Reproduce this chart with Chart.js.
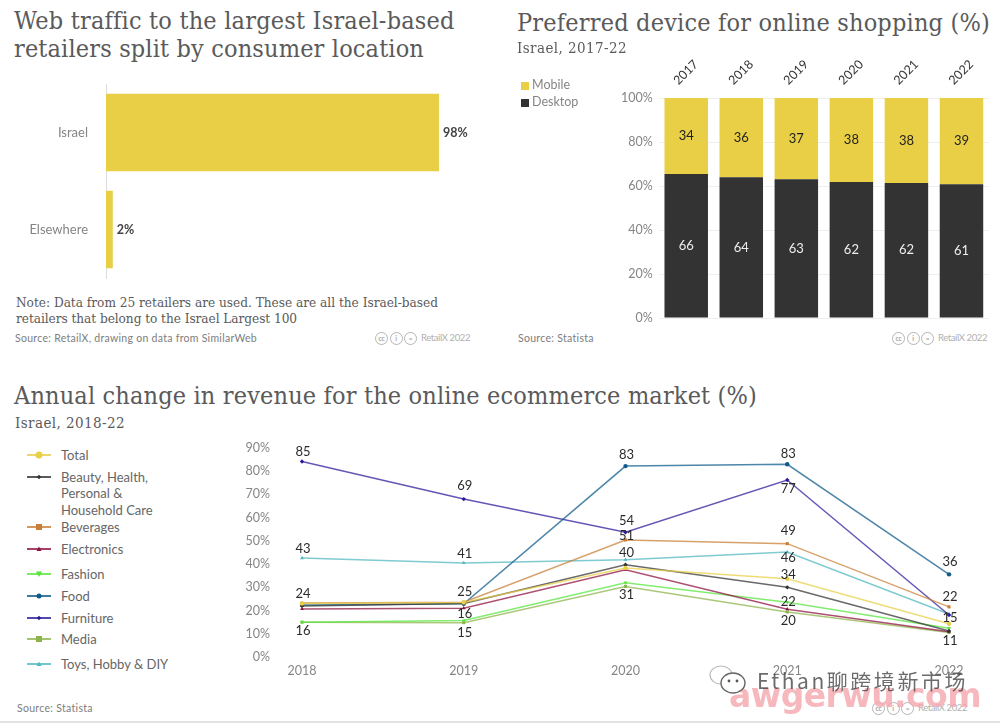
<!DOCTYPE html>
<html><head><meta charset="utf-8">
<script src="https://cdn.jsdelivr.net/npm/chart.js@4/dist/chart.umd.min.js"></script>
<style>
html,body{margin:0;padding:0;background:#fff;overflow:hidden}
#page{position:relative;width:1000px;height:723px;overflow:hidden;font-family:Lato,sans-serif}
.t{position:absolute;white-space:nowrap;line-height:1}
.serif{font-family:"DejaVu Serif Condensed","DejaVu Serif",serif;color:#5a5a5a}
.src{font-size:10.5px;color:#7d7d7d}
canvas{position:absolute}
.cc{position:absolute;width:11px;height:11px;border:1.2px solid #b5b5b5;border-radius:50%;font-size:6.5px;line-height:11px;text-align:center;color:#a0a0a0;font-weight:bold}
.leg{font-size:13px;color:#666;line-height:16.3px;position:absolute;left:61px}
svg{position:absolute}
</style></head><body><div id="page">
<canvas id="c1" width="500" height="205" style="left:0;top:80px;width:500px;height:205px"></canvas>
<canvas id="c2" width="500" height="280" style="left:500px;top:50px;width:500px;height:280px"></canvas>
<canvas id="c3" width="760" height="260" style="left:240px;top:435px;width:760px;height:260px"></canvas>
</div>
<script>
// ---- Data ----
const locationCategories = ['Israel', 'Elsewhere'];
const locationValues = [98, 2];
const locationLabels = ['98%', '2%'];

const deviceYears = ['2017', '2018', '2019', '2020', '2021', '2022'];
const desktopValues = [65.5, 64, 63.1, 61.8, 61.4, 60.8];
const mobileValues = [34.5, 36, 36.9, 38.2, 38.6, 39.2];
const desktopLabels = ['66', '64', '63', '62', '62', '61'];
const mobileLabels = ['34', '36', '37', '38', '38', '39'];

const revenueYears = ['2018', '2019', '2020', '2021', '2022'];
const totalValues = [23, 23.5, 38.3, 33.7, 14.3];
const beautyValues = [22, 23, 39.7, 30, 11.2];
const beveragesValues = [23.2, 23.6, 50.4, 48.8, 21.6];
const electronicsValues = [20.7, 21, 37.6, 20.6, 10.9];
const fashionValues = [15, 15.7, 32, 23.6, 12.4];
const foodValues = [22.4, 22.9, 82.2, 83, 35.6];
const furnitureValues = [84.2, 68, 53.7, 76.2, 18.1];
const mediaValues = [15, 14.8, 30.4, 19.4, 10.6];
const toysValues = [42.6, 40.5, 41.9, 45.2, 18.5];
const yPercentTicks90 = [0,10,20,30,40,50,60,70,80,90];

// series name, year index, label text, vertical offset from the point
const lineLabels = [
 ['Furniture',0,'85',-10],['Furniture',1,'69',-13],['Furniture',2,'54',-11],['Furniture',3,'77',9],
 ['Furniture',4,'15',3],
 ['Food',2,'83',-11],['Food',3,'83',-10],['Food',4,'36',-13],
 ['Toys, Hobby & DIY',0,'43',-9],['Toys, Hobby & DIY',1,'41',-9],['Toys, Hobby & DIY',2,'40',-7],['Toys, Hobby & DIY',3,'46',6],
 ['Beverages',0,'24',-9],['Beverages',1,'25',-10],['Beverages',2,'51',-4],['Beverages',3,'49',-13],['Beverages',4,'22',-10],
 ['Total',3,'34',-4],
 ['Fashion',0,'16',9],['Fashion',1,'16',-7],['Fashion',3,'22',0],
 ['Media',1,'15',10],['Media',2,'31',8],['Media',3,'20',9],['Media',4,'11',8]
];

const SANS = 'Lato, sans-serif';
const page = document.getElementById('page');

function text(str, x, cy, size, cls, width, color, family, weight){
  const e = document.createElement('div');
  e.className = 't ' + cls; e.textContent = str;
  e.style.left = x + 'px'; e.style.fontSize = size + 'px';
  e.style.top = (cy - size/2) + 'px';
  if(color) e.style.color = color;
  if(family) e.style.fontFamily = family;
  if(weight) e.style.fontWeight = weight;
  page.appendChild(e);
  if(width){ const w = e.getBoundingClientRect().width;
    e.style.letterSpacing = ((width - w) / str.length) + 'px'; }
  return e;
}
text('Web traffic to the largest Israel-based',14,20,25,'serif',440);
text('retailers split by consumer location',14,48,25,'serif',410);
text('Note: Data from 25 retailers are used. These are all the Israel-based',16,303,13.5,'serif',422);
text('retailers that belong to the Israel Largest 100',16,318.5,13.5,'serif',281);
text('Source: RetailX, drawing on data from SimilarWeb',15,338,10.5,'src',242);
text('Preferred device for online shopping (%)',517,22,25,'serif',473);
text('Israel, 2017-22',517,48,15,'serif',110);
text('Source: Statista',518,338,10.5,'src',76);
text('Annual change in revenue for the online ecommerce market (%)',14,395,25,'serif',743);
text('Israel, 2018-22',15,423.5,15,'serif',110);
text('Source: Statista',17,708,10.5,'src',76);

function ccMark(x, y){
  ['cc','i','='].forEach((s,i)=>{
    const c = document.createElement('div'); c.className='cc'; c.textContent=s;
    c.style.left=(x+i*14.6-6)+'px'; c.style.top=(y-6.5)+'px'; page.appendChild(c);
  });
  text('RetailX 2022', x+40, y, 9.5, '', 49, '#b0b0b0');
}
ccMark(381,338); ccMark(898,338); ccMark(878,708);

const hr = document.createElement('div');
hr.style.cssText='position:absolute;left:0;top:721px;width:1000px;height:1.5px;background:#e2e2e2';
page.appendChild(hr);

const YEL = '#e8cf45', DARK = '#333333';

// the scales' own edge padding is removed so the plot area fills the set frame
function flatY(width){ return s=>{ s.width=width; s.paddingTop=0; s.paddingBottom=0; }; }
function flatX(height){ return s=>{ s.height=height; s.paddingLeft=0; s.paddingRight=0; }; }

const barLabels = {
  id:'barLabels',
  afterDatasetsDraw(chart){
    const o = chart.options.plugins.barLabels; if(!o) return;
    const ctx = chart.ctx; ctx.save();
    ctx.textBaseline='middle';
    o.sets.forEach((set,di)=>{
      const meta = chart.getDatasetMeta(di);
      meta.data.forEach((el,i)=>{
        ctx.font = set.font; ctx.fillStyle = set.color;
        if(o.outside){ ctx.textAlign='left'; ctx.fillText(set.text[i], el.x+4, el.y); }
        else { ctx.textAlign='center'; ctx.fillText(set.text[i], el.x, (el.y+el.base)/2); }
      });
    });
    ctx.restore();
  }
};
const pointLabels = {
  id:'pointLabels',
  afterDatasetsDraw(chart){
    const ctx = chart.ctx; ctx.save();
    ctx.textAlign='center'; ctx.textBaseline='middle';
    ctx.font='13px '+SANS; ctx.fillStyle='#2b2b2b';
    lineLabels.forEach(([name,i,t,dy])=>{
      const di = chart.data.datasets.findIndex(d=>d.label===name);
      const el = chart.getDatasetMeta(di).data[i];
      ctx.fillText(t, el.x+1, el.y+dy);
    });
    ctx.restore();
  }
};

// Chart 1
new Chart(document.getElementById('c1'),{
  type:'bar',
  data:{labels:locationCategories,datasets:[{data:locationValues,backgroundColor:YEL,barPercentage:0.8,categoryPercentage:1}]},
  plugins:[barLabels],
  options:{indexAxis:'y',responsive:false,maintainAspectRatio:false,animation:false,
    layout:{padding:{top:4,bottom:7,right:54.2,left:0}},
    plugins:{legend:{display:false},tooltip:{enabled:false},
      barLabels:{outside:true,sets:[{text:locationLabels,font:'bold 12.5px '+SANS,color:'#444'}]}},
    scales:{
      x:{display:false,min:0,max:100},
      y:{afterFit:flatY(106),grid:{display:false,drawTicks:false},border:{color:'#dcdcdc',width:1},
         ticks:{color:'#858585',font:{family:SANS,size:13},padding:18}}
    }}
});

// Chart 2
new Chart(document.getElementById('c2'),{
  type:'bar',
  data:{labels:deviceYears,datasets:[
    {label:'Desktop',data:desktopValues,backgroundColor:DARK,barPercentage:0.79,categoryPercentage:1},
    {label:'Mobile',data:mobileValues,backgroundColor:YEL,barPercentage:0.79,categoryPercentage:1}
  ]},
  plugins:[barLabels],
  options:{responsive:false,maintainAspectRatio:false,animation:false,
    layout:{padding:{top:0,bottom:12,right:11,left:0}},
    plugins:{legend:{display:false},tooltip:{enabled:false},
      barLabels:{sets:[
        {text:desktopLabels,font:'13px '+SANS,color:'#eeeeee'},
        {text:mobileLabels,font:'13px '+SANS,color:'#1f1f1f'}]}},
    scales:{
      x:{position:'top',stacked:true,afterFit:flatX(48),grid:{display:false},border:{display:false},
         ticks:{color:'#333',font:{family:SANS,size:12.5},minRotation:45,maxRotation:45,padding:2}},
      y:{stacked:true,min:0,max:100,afterFit:flatY(158.7),
         grid:{color:'#efefef',drawTicks:false},border:{display:false},
         ticks:{stepSize:20,color:'#858585',font:{family:SANS,size:12.5},padding:6,callback:v=>v+'%'}}
    }}
});
[['Mobile',YEL,85.5],['Desktop',DARK,102.5]].forEach(([n,c,y])=>{
  const s=document.createElement('div');
  s.style.cssText=`position:absolute;left:521px;top:${y-4}px;width:8px;height:8px;background:${c}`;
  page.appendChild(s);
  text(n,532,y,12.5,'',0,'#858585');
});

// Chart 3
const seriesStyle = [
 ['Total',totalValues,'#e8cf45','circle',0,455,3.5],
 ['Beauty, Health,\nPersonal &\nHousehold Care',beautyValues,'#333333','rectRot',0,477,2.2],
 ['Beverages',beveragesValues,'#c97f35','rect',0,527,3],
 ['Electronics',electronicsValues,'#8e1040','triangle',0,549,2.5],
 ['Fashion',fashionValues,'#55e63a','triangle',180,574,3],
 ['Food',foodValues,'#0e5a8a','circle',0,596,2.5],
 ['Furniture',furnitureValues,'#2a1a9a','rectRot',0,617.5,2.2],
 ['Media',mediaValues,'#8cb44a','rect',0,639,3],
 ['Toys, Hobby & DIY',toysValues,'#4fb8c0','triangle',0,664,2.5]
];
const datasets = seriesStyle.map(([name,vals,col,shape,rot])=>({
  label:name.indexOf('\n')>=0?name.replace(/\n/g,' '):name,
  data:vals,borderColor:col+'bb',backgroundColor:col,borderWidth:1.5,tension:0,
  pointStyle:shape,pointRotation:rot,pointRadius:2.2,pointBorderWidth:0,clip:false
}));
new Chart(document.getElementById('c3'),{
  type:'line',
  data:{labels:revenueYears,datasets},
  plugins:[pointLabels],
  options:{responsive:false,maintainAspectRatio:false,animation:false,
    layout:{padding:{top:13,bottom:0,right:51,left:0}},
    plugins:{legend:{display:false},tooltip:{enabled:false}},
    scales:{
      x:{offset:false,afterFit:flatX(38),grid:{display:false,drawTicks:false},border:{display:false},
         ticks:{color:'#858585',font:{family:SANS,size:12.5},padding:6,maxRotation:0}},
      y:{min:0,max:90,afterFit:flatY(62),grid:{display:false,drawTicks:false},border:{display:false},
         afterBuildTicks(s){s.ticks=yPercentTicks90.map(v=>({value:v}))},
         ticks:{color:'#858585',font:{family:SANS,size:12.5},padding:32,callback:v=>v+'%'}}
    }}
});
seriesStyle.forEach(([name,vals,col,shape,rot,y,r])=>{
  const NS='http://www.w3.org/2000/svg';
  const svg=document.createElementNS(NS,'svg');
  svg.setAttribute('width','26');svg.setAttribute('height','14');
  svg.style.left='26px';svg.style.top=(y-7)+'px';
  const l=document.createElementNS(NS,'line');
  l.setAttribute('x1','1');l.setAttribute('x2','25');l.setAttribute('y1','7');l.setAttribute('y2','7');
  l.setAttribute('stroke',col);l.setAttribute('stroke-width','1.6');svg.appendChild(l);
  let m;
  if(shape==='circle'){m=document.createElementNS(NS,'circle');m.setAttribute('cx','13');m.setAttribute('cy','7');m.setAttribute('r',r);}
  else{m=document.createElementNS(NS,'polygon');
    const p={rect:[[-r,-r],[r,-r],[r,r],[-r,r]],rectRot:[[0,-r],[r,0],[0,r],[-r,0]],
             triangle:rot?[[-r,-r*.8],[r,-r*.8],[0,r]]:[[-r,r*.8],[r,r*.8],[0,-r]]}[shape];
    m.setAttribute('points',p.map(a=>(13+a[0])+','+(7+a[1])).join(' '));}
  m.setAttribute('fill',col);svg.appendChild(m);page.appendChild(svg);
  const e=document.createElement('div');e.className='leg';
  e.style.top=(y-8)+'px';e.innerHTML=name.replace(/&/g,'&amp;').replace(/\n/g,'<br>');
  page.appendChild(e);
});

// Overlaid marks present in the reference picture
const wm2=text('awgerwu.com',729,695,33,'',252,'#f4a6ad','"DejaVu Sans",sans-serif','bold');
wm2.style.opacity='.8';
const wm=text('Ethan聊跨境新市场',757,680,21,'',211,'#3a3a3a','"Noto Sans CJK SC",sans-serif');
wm.style.opacity='.75';
const bub=document.createElementNS('http://www.w3.org/2000/svg','svg');
bub.setAttribute('width','40');bub.setAttribute('height','32');
bub.style.left='708px';bub.style.top='664px';
bub.innerHTML='<ellipse cx="13" cy="11" rx="11" ry="9" fill="none" stroke="#bbb" stroke-width="1.2"/>'+
 '<ellipse cx="25" cy="19" rx="12" ry="10" fill="#fff" stroke="#666" stroke-width="1.4"/>'+
 '<circle cx="21" cy="17" r="1.4" fill="#555"/><circle cx="29" cy="17" r="1.4" fill="#555"/>';
page.appendChild(bub);
</script></body></html>
